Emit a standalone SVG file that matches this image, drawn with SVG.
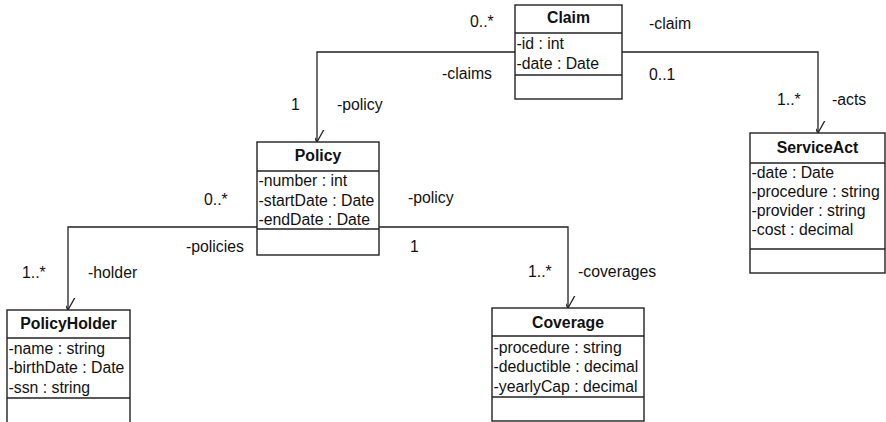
<svg xmlns="http://www.w3.org/2000/svg" width="886" height="422" viewBox="0 0 886 422">
  <style>
    text { font-family: "Liberation Sans", Arial, Helvetica, sans-serif; font-size: 15.8px; fill: #111; }
    .title { font-weight: bold; text-anchor: middle; }
    .box { fill: #fff; stroke: #222; stroke-width: 1.4; }
    .div { stroke: #222; stroke-width: 1.4; }
    .conn { fill: none; stroke: #222; stroke-width: 1.3; }
  </style>
  <defs>
    <marker id="open-arrow" markerUnits="userSpaceOnUse" markerWidth="24" markerHeight="22" viewBox="-12 -20 24 22" refX="0" refY="0" orient="auto-start-reverse">
      <path d="M -10 -18 L 0 0 L 10 -18" fill="none" stroke="#222" stroke-width="1.3" transform="rotate(-90)"/>
    </marker>
  </defs>
  <rect width="886" height="422" fill="#fff"/>

  <!-- associations -->
  <g id="connectors">
    <polyline class="conn" points="515,52 317,52 317,142" marker-end="url(#open-arrow)"/>
    <polyline class="conn" points="622,52 818,52 818,133" marker-end="url(#open-arrow)"/>
    <polyline class="conn" points="257,227 68,227 68,310" marker-end="url(#open-arrow)"/>
    <polyline class="conn" points="379,227 568,227 568,308" marker-end="url(#open-arrow)"/>

    <text x="470" y="27">0..*</text>
    <text x="442" y="79">-claims</text>
    <text x="291" y="110">1</text>
    <text x="337" y="110">-policy</text>

    <text x="649" y="29">-claim</text>
    <text x="649" y="80">0..1</text>
    <text x="777" y="105">1..*</text>
    <text x="832" y="105">-acts</text>

    <text x="204" y="205">0..*</text>
    <text x="186" y="252">-policies</text>
    <text x="22" y="278">1..*</text>
    <text x="88" y="278">-holder</text>

    <text x="408" y="203">-policy</text>
    <text x="410" y="252">1</text>
    <text x="528" y="277">1..*</text>
    <text x="578" y="277">-coverages</text>
  </g>

  <g id="claim">
    <rect class="box" x="515" y="5" width="107" height="94"/>
    <line class="div" x1="515" y1="33" x2="622" y2="33"/>
    <line class="div" x1="515" y1="75" x2="622" y2="75"/>
    <text class="title" x="568.5" y="23">Claim</text>
    <text x="516.5" y="49">-id : int</text>
    <text x="516.5" y="69">-date : Date</text>
  </g>

  <g id="policy">
    <rect class="box" x="257" y="142" width="122" height="113"/>
    <line class="div" x1="257" y1="171" x2="379" y2="171"/>
    <line class="div" x1="257" y1="229" x2="379" y2="229"/>
    <text class="title" x="318" y="161">Policy</text>
    <text x="258.5" y="186">-number : int</text>
    <text x="258.5" y="206">-startDate : Date</text>
    <text x="258.5" y="225">-endDate : Date</text>
  </g>

  <g id="serviceact">
    <rect class="box" x="750" y="133" width="135" height="140"/>
    <line class="div" x1="750" y1="163" x2="885" y2="163"/>
    <line class="div" x1="750" y1="249" x2="885" y2="249"/>
    <text class="title" x="817.5" y="153">ServiceAct</text>
    <text x="751.5" y="178">-date : Date</text>
    <text x="751.5" y="197">-procedure : string</text>
    <text x="751.5" y="216">-provider : string</text>
    <text x="751.5" y="235">-cost : decimal</text>
  </g>

  <g id="policyholder">
    <rect class="box" x="7" y="310" width="123" height="124"/>
    <line class="div" x1="7" y1="338" x2="130" y2="338"/>
    <line class="div" x1="7" y1="398" x2="130" y2="398"/>
    <text class="title" x="68.5" y="329">PolicyHolder</text>
    <text x="8.5" y="354">-name : string</text>
    <text x="8.5" y="373">-birthDate : Date</text>
    <text x="8.5" y="393">-ssn : string</text>
  </g>

  <g id="coverage">
    <rect class="box" x="492" y="308" width="152" height="113"/>
    <line class="div" x1="492" y1="336" x2="644" y2="336"/>
    <line class="div" x1="492" y1="397" x2="644" y2="397"/>
    <text class="title" x="568" y="328">Coverage</text>
    <text x="493.5" y="353">-procedure : string</text>
    <text x="493.5" y="372">-deductible : decimal</text>
    <text x="493.5" y="392">-yearlyCap : decimal</text>
  </g>
</svg>
